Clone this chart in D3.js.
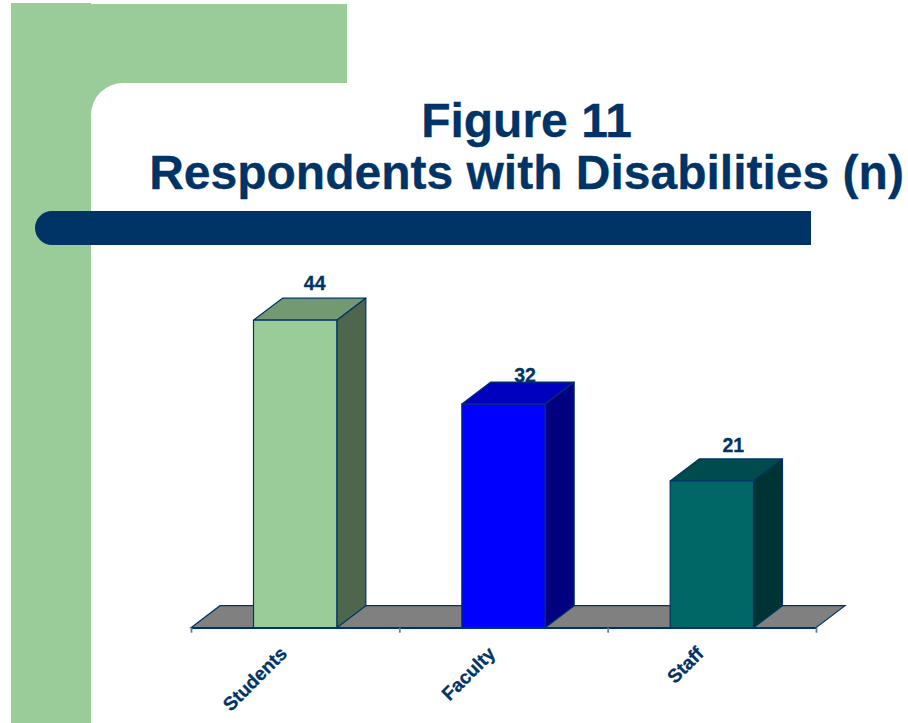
<!DOCTYPE html>
<html>
<head>
<meta charset="utf-8">
<title>Respondents with Disabilities</title>
<script src="https://cdn.jsdelivr.net/npm/d3@7"></script>
<style>
  html, body { margin: 0; padding: 0; background: #fff; }
  svg { display: block; }
  text { font-family: "Liberation Sans", Arial, sans-serif; font-weight: bold; fill: #003366; stroke: #003366; stroke-width: 0.3px; }
</style>
</head>
<body>
<svg id="chart" width="908" height="723"></svg>
<script>
const categories = ["Students", "Faculty", "Staff"];
const respondents = [44, 32, 21];
const titleLines = ["Figure 11", "Respondents with Disabilities (n)"];

const frontColors = ["#9acc99", "#0000ff", "#006666"];
const topColors = ["#739973", "#0000bf", "#004c4c"];
const sideColors = ["#4d664d", "#000080", "#003333"];
const navy = "#003366";
const palette = "#9acc99";

// Per-bar adjustment of the value labels above the box tops
const labelLift = [8, 0.5, 7];
const labelShift = [5, 7, 7];

const plot = { left: 191, right: 816, base: 627.7, top: 320.2 };
const depth = { x: 29, y: 22 };

const svg = d3.select("#chart");

// Slide template: green L-shaped panel with a rounded inner corner, and the navy rule
const panel = svg.append("g");
panel.append("path")
  .attr("fill", palette)
  .attr("d", "M11,3H91V4H347V83H123A32,32 0 0 0 91,115V723H11Z");
panel.append("path")
  .attr("fill", navy)
  .attr("d", "M52,211H811V245H52A17,17 0 0 1 52,211Z");

svg.append("g").selectAll("text")
  .data(titleLines)
  .join("text")
  .attr("x", 526.5)
  .attr("y", (d, i) => 137 + i * 52)
  .attr("text-anchor", "middle")
  .attr("font-size", 48)
  .text(d => d);

const x = d3.scaleBand()
  .domain(categories)
  .range([plot.left, plot.right])
  .paddingInner(0.6)
  .paddingOuter(0.3);

const y = d3.scaleLinear()
  .domain([0, 44])
  .range([plot.base, plot.top]);

// Chart floor, a parallelogram receding behind the category axis
const floor = d3.path();
floor.moveTo(plot.left, y(0));
floor.lineTo(plot.left + depth.x, y(0) - depth.y);
floor.lineTo(plot.right + depth.x, y(0) - depth.y);
floor.lineTo(plot.right, y(0));
floor.closePath();
svg.append("path")
  .attr("d", floor.toString())
  .attr("fill", "#808080")
  .attr("stroke", navy)
  .attr("stroke-width", 1.2);

// Category boundary ticks
const edges = d3.scaleLinear().domain([0, categories.length]).range([plot.left, plot.right]);
const tickAxis = svg.append("g")
  .attr("transform", `translate(0,${y(0)})`)
  .call(d3.axisBottom(edges).ticks(categories.length).tickFormat("").tickSize(5).tickSizeOuter(0));
tickAxis.select(".domain").attr("stroke", navy).attr("stroke-width", 1.4);
tickAxis.selectAll(".tick line").attr("stroke", "#5f7f9f").attr("stroke-width", 1.8);

// Value labels sit underneath the boxes, so a box top can clip a label
svg.append("g").selectAll("text")
  .data(respondents)
  .join("text")
  .attr("x", (d, i) => x(categories[i]) + x.bandwidth() / 2 + depth.x / 2 + labelShift[i])
  .attr("y", (d, i) => y(d) - depth.y - labelLift[i])
  .attr("text-anchor", "middle")
  .attr("font-size", 19.5)
  .text(d => d);

// Extruded bars: top face, side face, front face
const bars = svg.append("g").selectAll("g")
  .data(respondents)
  .join("g")
  .attr("stroke", navy)
  .attr("stroke-width", 1.2)
  .attr("stroke-linejoin", "round");

const face = pts => {
  const p = d3.path();
  pts.forEach(([px, py], i) => (i ? p.lineTo(px, py) : p.moveTo(px, py)));
  p.closePath();
  return p.toString();
};

bars.append("path")
  .attr("fill", (d, i) => topColors[i])
  .attr("d", (d, i) => {
    const l = x(categories[i]), r = l + x.bandwidth(), t = y(d);
    return face([[l, t], [l + depth.x, t - depth.y], [r + depth.x, t - depth.y], [r, t]]);
  });

bars.append("path")
  .attr("fill", (d, i) => sideColors[i])
  .attr("d", (d, i) => {
    const r = x(categories[i]) + x.bandwidth(), t = y(d), b = y(0);
    return face([[r, t], [r + depth.x, t - depth.y], [r + depth.x, b - depth.y], [r, b]]);
  });

bars.append("rect")
  .attr("x", (d, i) => x(categories[i]))
  .attr("y", d => y(d))
  .attr("width", x.bandwidth())
  .attr("height", d => y(0) - y(d))
  .attr("fill", (d, i) => frontColors[i]);

// Category labels, slanted and ending under each bar
const catAxis = svg.append("g")
  .attr("transform", `translate(0,${y(0)})`)
  .call(d3.axisBottom(x).tickSize(0).tickPadding(0));
catAxis.select(".domain").remove();
catAxis.attr("font-family", null).attr("font-size", null);
catAxis.selectAll(".tick text")
  .attr("font-size", 19)
  .attr("text-anchor", "end")
  .attr("dx", 0)
  .attr("dy", 0)
  .attr("y", 0)
  .attr("transform", "translate(-7,27) rotate(-45)");
</script>
</body>
</html>
